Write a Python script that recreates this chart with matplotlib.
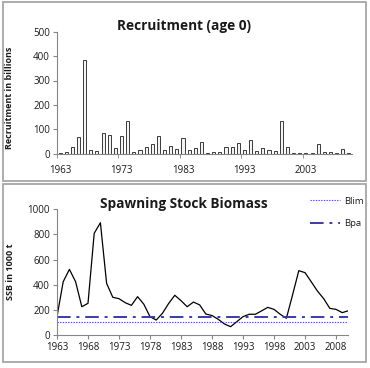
import matplotlib
matplotlib.use("Agg")
import matplotlib.pyplot as plt
from matplotlib.patches import Rectangle
import numpy as np

plt.rcParams['font.family'] = ['Open Sans', 'DejaVu Sans']

years = list(range(1963, 2011))
recruitment = [3, 9, 27, 70, 386, 16, 13, 86, 77, 23, 73, 134, 9, 16, 26, 38,
               73, 16, 32, 20, 66, 16, 22, 47, 2, 7, 7, 28, 28, 42, 15, 55,
               12, 23, 15, 11, 134, 27, 3, 2, 3, 3, 38, 6, 6, 3, 20, 3]
ssb = [146, 424, 522, 424, 225, 252, 809, 893, 411, 300, 289, 257, 236, 305,
       245, 146, 119, 172, 250, 316, 273, 225, 262, 240, 167, 155, 125, 88,
       66, 106, 146, 165, 165, 192, 220, 204, 165, 133, 320, 512, 496, 424,
       350, 290, 212, 204, 178, 193]
blim = 100
bpa = 140
rec_ticks = [1963, 1973, 1983, 1993, 2003]
ssb_ticks = [1963, 1968, 1973, 1978, 1983, 1988, 1993, 1998, 2003, 2008]

W, H = 370, 368
fig = plt.figure(figsize=(W / 100, H / 100), dpi=100)
fig.patch.set_facecolor('white')

def fx(px):
    return px / W

def fy(py):
    return 1 - py / H

# panel borders
for (x0, y0, x1, y1) in [(3, 2, 366, 181), (3, 184, 366, 362)]:
    fig.patches.append(Rectangle((fx(x0), fy(y1)), fx(x1) - fx(x0), fy(y0) - fy(y1),
                                 transform=fig.transFigure, fill=False,
                                 edgecolor='#a6a6a6', lw=1.3))

axis_col = '#868686'
tick_fs = 7.0
txt_col = '#1a1a1a'

# top chart
ax1 = fig.add_axes([fx(57), fy(153.7), fx(352) - fx(57), fy(31.7) - fy(153.7)])
idx = np.arange(len(years))
ax1.bar(idx, recruitment, width=0.5, facecolor='#f4f4f4', edgecolor='#3a3a3a', lw=0.7)
ax1.set_xlim(-0.5, len(years) - 0.5)
ax1.set_ylim(0, 500)
ax1.set_yticks(range(0, 501, 100))
ax1.set_xticks([years.index(y) for y in rec_ticks])
ax1.set_xticklabels([str(y) for y in rec_ticks])
ax1.set_xticks([years.index(y) - 0.5 for y in rec_ticks], minor=True)
ax1.tick_params(axis='x', which='major', length=0, pad=8, labelsize=tick_fs, labelcolor=txt_col)
ax1.tick_params(axis='x', which='minor', length=3, direction='out', color=axis_col)
ax1.tick_params(axis='y', length=3, direction='out', color=axis_col, labelsize=tick_fs,
                pad=2, labelcolor=txt_col)
ax1.set_ylabel('Recruitment in billions', fontsize=6.5, fontweight='bold', color=txt_col)
ax1.yaxis.set_label_coords(-0.145, 0.46)

# bottom chart
ax2 = fig.add_axes([fx(57), fy(335), fx(348.4) - fx(57), fy(209.3) - fy(335)])
ax2.plot(years, ssb, color='black', lw=0.9)
l1, = ax2.plot([years[0], years[-1]], [blim, blim], color='#4a4af5', lw=0.8,
               linestyle=(0, (1.2, 1.2)), label='Blim')
l2, = ax2.plot([years[0], years[-1]], [bpa, bpa], color='#3a3aae', lw=1.4,
               linestyle=(0, (7, 3, 1.5, 3)), label='Bpa')
ax2.set_xlim(years[0], years[-1])
ax2.set_ylim(0, 1000)
ax2.set_yticks(range(0, 1001, 200))
ax2.set_xticks(ssb_ticks)
ax2.tick_params(axis='x', length=3, direction='out', color=axis_col, labelsize=tick_fs,
                pad=2, labelcolor=txt_col)
ax2.tick_params(axis='y', length=3, direction='out', color=axis_col, labelsize=tick_fs,
                pad=2, labelcolor=txt_col)
ax2.set_ylabel('SSB in 1000 t', fontsize=6.5, fontweight='bold', color=txt_col)
ax2.yaxis.set_label_coords(-0.145, 0.5)

for ax in (ax1, ax2):
    for s in ('top', 'right'):
        ax.spines[s].set_visible(False)
    for s in ('left', 'bottom'):
        ax.spines[s].set_color(axis_col)
        ax.spines[s].set_linewidth(0.8)

fig.text(fx(184), fy(26), 'Recruitment (age 0)', ha='center', va='center',
         fontsize=9.8, fontweight='bold', color=txt_col)
fig.text(fx(184), fy(204), 'Spawning Stock Biomass', ha='center', va='center',
         fontsize=9.8, fontweight='bold', color=txt_col)

leg = fig.legend(handles=[l1, l2], labels=['Blim', 'Bpa'],
                 loc='upper left', bbox_to_anchor=(fx(306), fy(193)),
                 frameon=False, fontsize=6.8, handlelength=3.2,
                 labelspacing=1.4, handletextpad=0.4, borderaxespad=0)
for t in leg.get_texts():
    t.set_color(txt_col)

fig.savefig('out.png', dpi=100, facecolor='white')
